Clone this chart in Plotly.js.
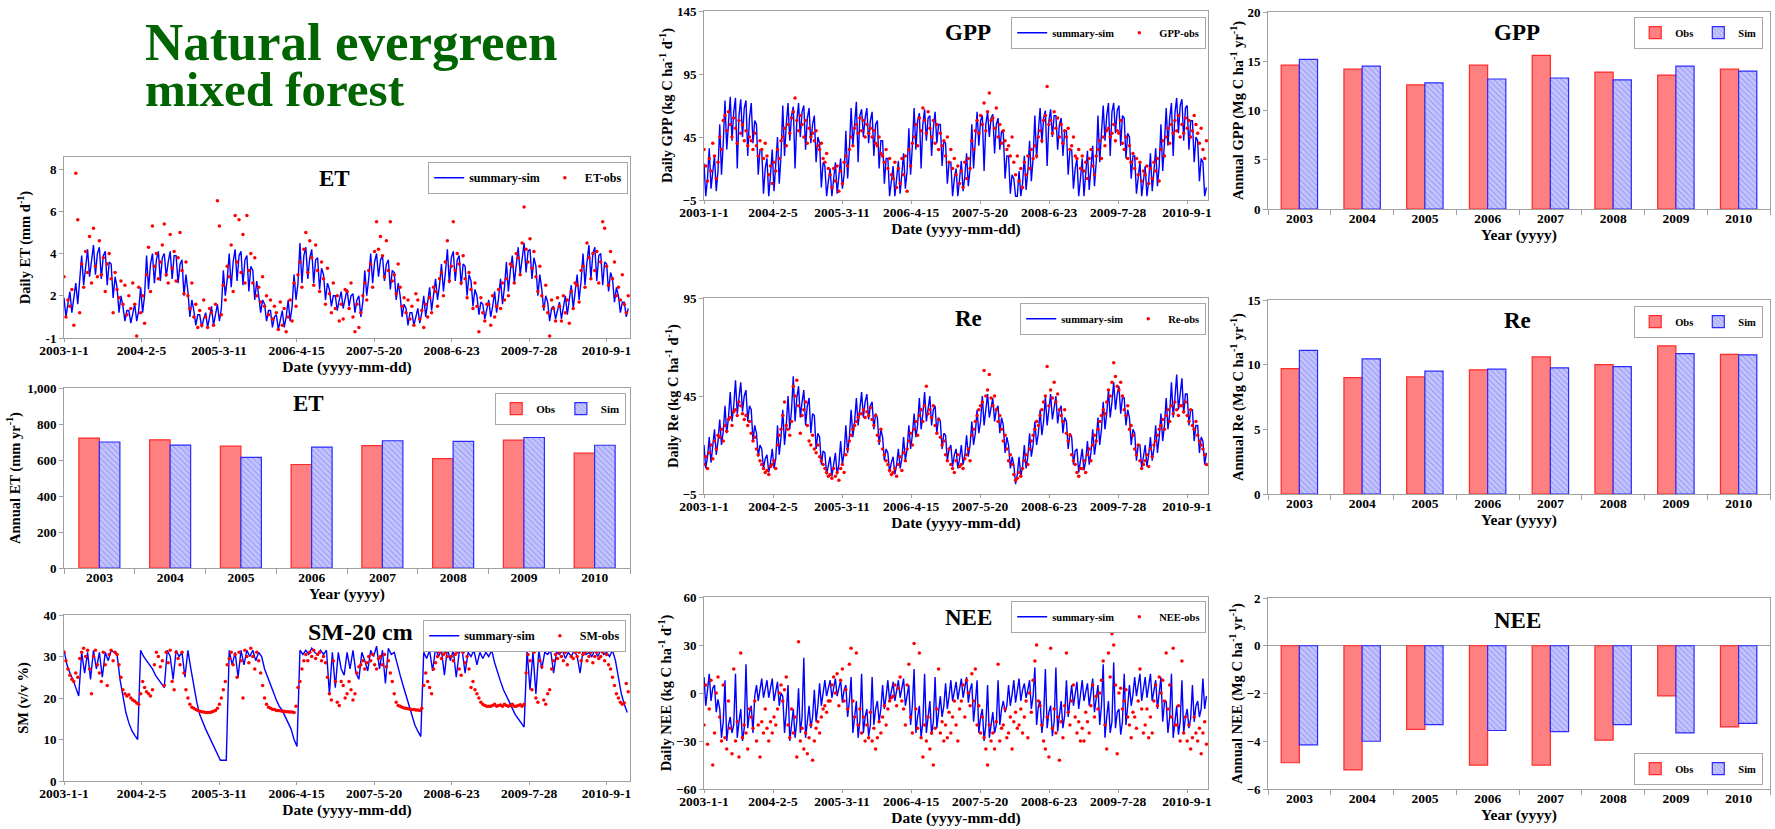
<!DOCTYPE html>
<html><head><meta charset="utf-8">
<script src="https://cdn.plot.ly/plotly-3.0.1.min.js"></script>
<style>html,body{margin:0;padding:0;background:#fff;}#chart{width:1775px;height:829px;}</style>
</head><body><div id="chart"></div>
<script>
// ---------- data ----------
const years = ['2003','2004','2005','2006','2007','2008','2009','2010'];
const dateTickLabels = ['2003-1-1','2004-2-5','2005-3-11','2006-4-15','2007-5-20','2008-6-23','2009-7-28','2010-9-1'];
const OBS_PER_YEAR = 36, SIM_PER_YEAR = 36, SM_SIM_PER_YEAR = 24;

// Daily ET (mm d-1)
const etSim = [
 1.9,1.0,1.6,2.2,1.2,2.0,2.6,1.6,2.8,3.9,2.5,3.4,4.2,2.9,3.8,4.4,3.0,4.0,4.3,2.8,3.9,4.1,2.5,3.6,3.5,1.9,2.9,2.4,1.2,2.0,1.5,0.8,1.3,1.3,0.7,1.1,
 1.6,0.8,1.3,2.4,1.2,2.0,3.9,2.3,3.5,4.0,2.6,3.7,4.1,2.7,3.8,4.0,2.9,3.6,4.1,2.8,3.9,3.9,2.6,3.5,3.7,2.0,3.0,2.2,1.0,1.8,1.3,0.6,1.1,1.1,0.5,0.9,
 1.2,0.5,1.0,1.5,0.6,1.2,1.6,0.8,1.4,3.2,2.0,2.8,4.0,2.4,3.6,4.2,2.7,3.9,4.1,2.5,3.7,3.9,2.2,3.4,3.2,1.8,2.7,2.0,1.2,1.8,1.6,0.8,1.3,1.3,0.5,1.0,
 1.1,0.4,0.9,1.3,0.5,1.0,1.8,0.8,1.5,3.0,1.8,2.6,4.5,2.6,3.9,4.3,2.8,3.8,4.2,2.6,3.7,3.8,2.3,3.3,3.0,1.8,2.6,2.3,1.5,2.0,2.0,1.3,1.8,2.2,1.4,1.9,
 2.3,1.5,2.0,2.1,1.2,1.8,2.0,1.0,1.7,3.2,2.0,2.8,4.0,2.6,3.6,4.0,2.9,3.7,3.9,2.7,3.5,3.7,2.3,3.2,3.1,1.8,2.6,2.0,1.0,1.6,1.4,0.6,1.2,1.2,0.6,1.0,
 1.4,0.7,1.2,2.0,1.0,1.7,2.4,1.3,2.0,2.8,1.8,2.5,3.5,2.2,3.1,4.2,2.6,3.8,4.1,2.7,3.7,3.9,2.5,3.5,3.4,2.0,3.0,2.7,1.5,2.3,2.0,1.1,1.7,1.6,0.9,1.4,
 1.8,1.0,1.5,2.2,1.2,1.9,2.8,1.6,2.4,3.6,2.2,3.2,3.9,2.6,3.6,4.3,3.0,3.9,4.5,3.1,4.1,4.2,2.8,3.8,3.4,2.0,3.0,2.3,1.3,2.0,1.7,0.8,1.4,1.5,0.9,1.3,
 1.7,0.9,1.4,2.0,1.1,1.7,2.5,1.4,2.2,3.0,1.8,2.7,4.0,2.5,3.6,4.4,2.8,4.0,4.3,2.7,3.9,4.0,2.5,3.6,3.5,2.2,3.1,2.8,1.7,2.4,2.0,1.2,1.7,1.7,1.0,1.4];
const etObs = [
 2.9,1.0,1.8,1.5,2.3,0.6,7.8,5.6,1.2,3.5,2.4,4.1,3.1,4.8,2.6,5.2,3.4,2.9,4.6,3.0,3.8,2.2,3.5,4.0,2.8,1.2,3.1,2.3,1.9,2.7,1.6,2.5,1.1,2.0,1.4,2.6,
 1.6,0.1,2.4,1.2,2.0,0.7,3.0,4.3,2.2,5.3,3.4,4.0,2.8,3.6,4.4,5.4,3.0,2.6,4.9,3.3,4.1,2.7,3.8,5.0,3.2,2.1,3.6,2.0,1.4,2.6,1.0,1.6,0.5,1.3,0.6,1.8,
 1.0,0.5,1.4,1.2,0.6,1.6,6.5,5.3,1.1,2.5,1.8,3.4,2.9,4.4,2.2,5.8,3.6,5.6,3.1,4.9,2.6,5.8,3.2,4.0,2.6,3.8,2.0,2.4,1.7,2.9,1.5,2.0,1.1,1.8,0.9,1.5,
 1.2,0.4,1.7,0.6,1.4,0.3,1.0,1.8,0.8,2.6,1.5,3.0,3.6,2.4,4.2,5.0,3.1,4.6,3.8,2.5,4.4,3.2,2.2,3.6,2.8,1.6,3.3,2.1,1.2,2.6,1.4,2.0,0.8,1.6,0.9,2.3,
 2.2,1.4,2.6,1.0,0.3,1.6,0.5,1.2,2.0,2.6,1.8,3.2,3.5,2.4,4.1,5.5,4.2,4.8,3.9,2.9,4.6,3.2,5.5,2.7,3.0,2.1,3.5,2.4,1.5,1.9,1.2,1.8,0.9,1.5,0.6,2.1,
 1.8,0.9,1.3,0.5,1.6,1.0,1.9,1.2,2.4,2.2,1.5,2.8,3.1,2.0,3.6,4.6,2.7,3.4,5.5,3.2,4.0,3.5,2.6,3.9,2.8,1.9,3.1,2.3,1.4,2.6,1.5,0.3,1.9,1.2,0.8,1.6,
 1.6,0.6,2.0,1.0,1.5,2.3,1.4,2.6,1.8,2.8,2.0,3.5,3.4,2.6,4.0,3.8,3.0,4.5,6.2,4.2,3.6,4.7,3.3,4.1,2.9,2.2,3.4,2.0,1.5,2.5,1.2,0.1,1.8,1.4,0.8,1.9,
 1.5,0.8,2.0,1.2,1.8,0.7,2.2,1.4,2.6,2.5,1.7,3.2,3.4,2.4,4.5,3.8,2.8,4.0,3.2,4.1,2.6,3.6,5.5,5.2,3.4,2.5,4.1,2.8,3.6,2.0,2.4,1.8,3.0,1.6,1.2,2.0];

// Soil moisture 20 cm (v/v %)
const smSim = [
 31.5,28,26,24.5,22.5,20.5,31,26,31,24.5,31.5,27,31,25,31,29,31.5,31,30.5,24.5,20,16.5,14,12.2,
 11,10,31.5,30,29,28,27,25.5,24.5,23.5,22.5,31.5,30,24.5,31.5,30,31,25,31.5,27,22.5,19,16,14,
 12.5,11,9.5,8,6.5,5,5,5,31.5,28,31,25,31.5,28,31.5,30,31.5,29,31,30,27,25,23,21,
 19.5,18,17,15.5,14,12.5,10,8.3,31.5,30.5,31.5,30.5,32,31,30.5,31.5,30.5,31.5,21,31,22.5,31,27,25.5,
 31,27,31.5,26,24.5,31,29,26.5,31.5,30,32.5,27,31.5,23.5,32,30.5,31,28,25.5,23,20.5,18,15.5,13.5,
 12,10.7,31,29.5,31.5,26.5,32,30,31.5,25.5,32,29,31.5,25,31,31.5,26,31,30,31.5,28,31,29.5,31,
 30,31.5,28.5,26,24,22,20.5,19,17.5,16,15,14,13,31.5,22,31,21,31.5,27,31,30.5,31.5,26,31,
 30.5,31.5,29.5,31,30,31.5,30,26,31.5,30.5,31,30,31.5,30,31.5,30.5,31,30,31.5,29,25,21,18.5,16.5];
const smObs = [
 31,29,27,25.5,24.5,24,26,25,29.5,31,32,30,31.5,27,21,30,31.5,28,26,24,31,28,23,30.5,31.5,29,31,30.5,28,25,22,21,20.5,20.8,20,19.5,
 19.2,18.8,18.5,21,24,22.5,21.5,21,20.5,22,28,31,30,27.5,29,23,31,28.5,31.5,24,22,31,29.5,28,31,26,22,20,18.5,17.8,17.5,17.2,17,16.8,16.7,16.6,
 16.5,16.5,16.5,16.6,16.8,17,17.5,18.5,20,22,24,28,29.5,31,28,30.5,25,31,29,20,31.5,30,28.5,32,30,27,31,29,26,23,20,18.5,17.8,17.5,17.3,17.2,
 17,17,16.9,16.8,16.8,16.7,16.7,16.6,16.6,16.5,18,22.5,24,27,29,30.5,29,31,30,31.5,29.5,30.5,31,29,30,28.5,25,21,19.5,29,24,19,18.2,24,23,20,
 21,24,22,19.5,21,26,27.5,28,29,27,28.5,30,29,30.5,28,27,29.5,30,28,30.5,27.5,29,26,24,21,19,18.2,18,17.8,17.6,17.5,17.4,17.3,17.2,17.2,17.1,
 17.1,17,17.5,23,26,24,22.5,21,27,28.5,30,31,29.5,30.5,31,30,31.5,30,29,30.5,31,27,25.5,31,28.5,30,27,22.5,24,22,21,20,19,18.5,18.2,18,
 18,18,18.2,18.5,18,18.2,18.3,18,18.5,18.2,18,18.2,18.5,18,18,18.2,18.4,18,18.5,26,30.5,29,22,31,20,19,29,27.5,19.5,18.5,21,22,27,29,30.5,29.5,
 31,30,29,31,28,31.5,30,29.5,31,30,31,29,30.5,31,29,30,31,28.5,30,31,29.5,30,31,29,30.5,28,27,25,23,21,20,19,18.5,18.8,23.5,21.5];

// Daily GPP (kg C ha-1 d-1)
const gppSim = [
 24,-2,12,36,4,20,30,2,18,55,15,40,74,35,60,77,42,65,76,20,62,75,45,68,74,30,60,72,40,58,55,15,35,35,0,20,
 28,-2,15,35,2,20,45,8,30,70,30,55,72,42,62,69,20,58,72,45,65,70,35,60,68,40,55,62,25,45,40,5,25,22,-2,10,
 20,-2,10,25,0,12,28,4,15,50,12,35,68,38,60,73,25,62,67,45,60,68,40,58,65,30,55,58,20,42,42,8,28,28,-2,12,
 22,-2,10,26,0,14,32,4,18,52,15,38,68,35,58,64,20,55,67,42,60,62,30,52,65,40,55,55,22,42,40,8,25,25,-2,12,
 20,-2,10,26,2,14,32,6,20,55,20,42,65,38,58,62,18,55,65,45,60,63,32,55,60,35,50,48,12,30,30,0,15,12,-2,-2,
 18,-2,8,30,3,18,42,10,28,62,28,50,68,40,60,66,22,58,67,45,62,62,35,55,60,30,50,50,15,35,35,4,20,28,-2,12,
 28,-2,15,34,3,20,38,6,25,62,25,48,70,42,62,72,30,65,72,48,66,70,38,62,60,28,48,45,12,30,30,0,15,25,-2,12,
 22,-2,10,32,2,18,36,6,22,55,18,40,68,38,60,72,30,64,76,48,70,75,42,68,70,35,58,58,25,45,42,10,28,25,-2,5];
const gppObs = [
 35,22,10,28,18,40,30,12,25,45,35,58,62,50,65,55,45,60,52,40,58,48,55,42,50,38,45,42,35,48,38,30,42,35,28,40,
 30,15,22,8,25,18,35,28,42,45,52,38,55,48,60,65,76,58,50,62,55,45,58,40,52,45,48,42,50,38,35,40,28,25,32,20,
 15,5,20,10,22,2,18,8,25,30,22,35,45,38,52,55,48,60,50,58,45,55,48,52,45,50,40,38,45,32,30,25,35,20,28,15,
 12,25,5,20,8,28,15,30,2,35,22,40,45,55,38,60,50,68,58,48,65,52,45,58,40,55,35,48,38,42,30,45,25,35,20,28,
 15,22,8,18,5,25,12,28,20,42,35,50,58,48,62,55,72,50,65,80,58,60,52,68,45,55,40,50,42,35,38,30,45,25,15,30,
 10,20,5,25,15,30,20,35,28,38,30,45,50,42,58,62,85,55,58,48,65,52,60,45,55,40,50,45,52,35,38,45,30,28,35,20,
 30,18,25,12,28,35,22,15,30,35,42,28,45,38,50,52,45,48,55,42,50,48,58,40,35,45,28,38,25,32,20,28,15,25,10,18,
 15,22,8,20,12,25,18,28,10,35,42,30,45,52,40,55,48,58,50,62,45,55,48,60,52,58,45,50,62,55,48,40,52,35,28,42];

// Daily Re (kg C ha-1 d-1)
const reSim = [
 20,8,14,24,11,18,28,15,22,33,20,27,40,26,34,47,32,40,53,36,46,52,37,45,48,32,40,38,22,30,26,14,20,18,8,13,
 15,6,11,18,8,13,30,15,24,38,20,30,45,28,38,55,32,44,50,34,42,48,30,40,44,26,36,35,18,26,24,10,17,16,5,10,
 14,4,9,16,5,10,22,10,16,30,16,24,38,24,32,44,30,38,47,34,42,46,33,40,42,28,36,34,20,28,24,12,18,16,6,11,
 14,5,10,18,8,13,24,12,18,30,18,25,36,24,30,44,28,36,47,32,40,45,30,38,40,26,34,32,18,26,25,12,18,20,9,15,
 18,8,13,20,10,15,25,14,20,32,20,26,38,26,32,45,30,38,46,34,40,44,32,38,40,26,34,30,16,24,20,8,14,10,0,5,
 14,4,9,20,8,14,26,14,20,32,20,26,38,25,32,45,30,38,46,33,40,45,31,38,40,26,34,32,18,26,24,10,17,18,6,12,
 18,7,12,22,10,16,28,15,22,34,20,28,42,28,36,48,34,42,52,38,46,50,36,44,44,30,38,34,20,28,26,12,20,20,8,14,
 20,9,15,24,12,18,30,16,24,36,22,30,44,28,36,52,34,44,56,38,48,54,36,46,46,30,38,38,22,30,30,16,24,22,10,16];
const reObs = [
 10,14,8,16,20,13,22,18,25,24,28,22,30,27,33,34,30,37,38,35,42,40,36,33,35,30,32,26,22,24,18,15,12,10,8,6,
 7,5,9,10,12,8,20,25,28,35,42,30,28,25,32,50,45,53,40,26,35,38,42,30,22,20,25,18,16,20,14,12,10,8,6,4,
 5,3,8,4,6,2,8,10,6,15,18,22,25,28,30,32,34,36,36,38,34,37,35,39,33,30,35,25,22,28,18,15,12,10,7,5,
 6,8,4,10,14,7,16,12,18,22,26,20,28,32,25,35,38,32,40,50,36,38,34,40,30,26,33,24,20,22,15,12,18,10,8,6,
 12,15,9,10,8,13,15,18,12,25,28,32,35,38,40,42,58,45,48,56,44,40,45,38,32,35,28,22,25,18,12,15,10,5,2,3,
 6,4,8,12,15,10,18,22,25,28,32,30,35,38,42,45,60,40,48,44,52,42,46,38,35,32,38,26,22,25,15,12,10,6,4,8,
 8,12,6,15,18,12,20,25,22,28,32,35,38,36,42,48,45,52,62,55,50,48,52,45,38,35,40,28,30,25,18,15,20,12,8,10,
 12,15,9,18,14,20,22,25,28,30,33,28,35,38,32,40,36,42,38,35,40,40,37,42,35,32,38,30,28,32,25,22,20,18,15,10];

// Daily NEE (kg C ha-1 d-1)
const neeSim = [
 10,-8,2,12,-5,3,5,-12,-4,-10,-28,-18,8,-30,-20,-15,-25,-20,12,-28,-18,-10,-30,-22,18,-22,-12,-8,-25,-2,5,-5,2,9,-3,4,
 8,-3,3,9,-5,2,7,-8,0,-2,-25,-12,5,-30,-20,-10,-28,-18,3,-25,-15,22,-28,-18,-8,-22,-15,2,-18,-8,6,-8,0,8,-2,4,
 8,-3,3,9,-2,4,8,-6,2,5,-15,-5,10,-25,-15,-5,-28,-18,12,-25,-15,-10,-27,-20,10,-20,-10,-5,-18,-10,5,-10,-2,8,-5,2,
 7,-5,2,8,-3,3,9,-8,0,5,-20,-8,15,-25,-15,-8,-28,-18,12,-25,-15,-5,-26,-18,10,-22,-12,-2,-15,-8,6,-10,-2,8,-5,2,
 7,-4,2,9,-3,3,10,-6,2,6,-18,-6,8,-25,-15,-10,-30,-20,5,-28,-18,-12,-25,-20,8,-20,-10,-5,-12,-8,5,-8,-1,8,-6,2,
 9,-5,2,6,-3,2,8,-10,-2,16,-20,-8,-5,-25,-15,15,-22,-12,-8,-27,-18,16,-24,-14,-5,-22,-14,8,-15,-5,5,-8,-1,7,-10,-2,
 8,-5,2,6,-8,-1,9,-12,-2,5,-20,-8,18,-28,-15,-5,-25,-18,19,-22,-12,-10,-26,-18,12,-20,-8,5,-8,-1,10,-2,5,12,-5,4,
 10,-3,4,12,-5,3,8,-10,-1,10,-18,-6,-5,-25,-15,12,-28,-18,-8,-26,-18,8,-25,-15,-10,-22,-16,5,-18,-8,-5,-15,-10,9,-10,-2];
const neeObs = [
 -20,5,-32,-10,8,-45,-25,0,10,-15,-30,5,-28,-35,-5,-22,-38,15,-30,-18,-40,25,-28,-20,-25,-35,-10,-15,-22,-5,-30,-20,-40,-18,-25,-10,
 -22,-30,-18,-25,-15,-20,-10,0,5,-5,2,10,-20,-28,-10,-25,-15,-40,32,-30,-22,-35,-25,-38,-28,-20,-42,-30,-22,-18,-25,-15,-10,-8,-12,-5,
 -5,5,10,0,12,-8,8,15,-5,2,-10,18,28,-5,-15,25,-20,-10,-25,-15,-30,-20,-28,-12,-30,-22,-35,-28,-18,-25,-15,-8,-20,-10,-5,-3,
 -2,5,-8,3,10,-5,-10,-20,5,18,-15,-25,31,-10,-22,25,-28,-40,-20,-30,-15,-35,-25,-45,-22,-10,15,-25,-18,-30,-20,-28,-12,-25,-15,-5,
 -20,-30,-10,-5,5,-15,8,0,-8,12,-5,15,-20,-8,-25,-15,-28,-35,-45,-20,-30,-25,-35,-18,18,-30,-22,-20,-10,-28,-25,-15,-35,-18,-12,-22,
 -20,-10,-25,-15,-5,-28,0,-12,8,20,30,-5,-8,-20,-30,-35,-15,-40,28,-22,-10,-25,-15,-42,-18,-28,-8,25,-12,-20,-5,5,-15,-25,-18,-30,
 -22,-30,-12,-18,-25,-8,5,-15,-2,-10,0,8,20,-20,-35,25,10,37,30,5,-38,0,3,-10,-5,2,-15,-20,-28,-12,-15,-22,-5,15,-10,-25,
 -20,-10,-28,-15,-25,-5,5,-8,10,0,8,-5,25,-10,5,-15,28,-20,-20,-8,-30,20,-25,-15,-30,-20,-35,-28,-15,-25,-30,-22,-38,-25,-18,-32];

// Annual totals
const etAnnObs  = [722,712,677,575,680,608,710,638];
const etAnnSim  = [700,683,615,672,707,703,725,682];
const gppAnnObs = [14.6,14.2,12.6,14.6,15.6,13.9,13.6,14.2];
const gppAnnSim = [15.2,14.5,12.8,13.2,13.3,13.1,14.5,14.0];
const reAnnObs  = [9.7,9.0,9.05,9.6,10.6,10.0,11.45,10.8];
const reAnnSim  = [11.1,10.45,9.5,9.65,9.75,9.85,10.85,10.75];
const neeAnnObs = [-4.9,-5.2,-3.5,-5.0,-5.0,-3.95,-2.1,-3.4];
const neeAnnSim = [-4.15,-4.0,-3.3,-3.55,-3.6,-3.3,-3.65,-3.25];

// ---------- helpers ----------
function sampleDates(perYear){
  const out=[];
  for(let y=2003;y<=2010;y++){
    const s=Date.UTC(y,0,1), e=Date.UTC(y+1,0,1), step=(e-s)/perYear;
    for(let k=0;k<perYear;k++) out.push(new Date(s+k*step).toISOString().slice(0,19).replace('T',' '));
  }
  return out;
}
const obsDates = sampleDates(OBS_PER_YEAR);
const simDates = sampleDates(SIM_PER_YEAR);
const smSimDates = sampleDates(SM_SIM_PER_YEAR);
const tickDates = dateTickLabels.map(t=>{const p=t.split('-');return p[0]+'-'+p[1].padStart(2,'0')+'-'+p[2].padStart(2,'0');});

const FONT='Liberation Serif, Times New Roman, serif';
const W=1775,H=829;
const px=(a,b)=>[a/W,b/W];
const py=(top,bottom)=>[1-bottom/H,1-top/H];
const AX='#a0a0a0';
const tf=(s)=>({family:FONT,size:s,color:'#000',weight:'bold'});

function tsX(dom,anchor){
  return {domain:dom,anchor:anchor,type:'date',range:['2003-01-01','2010-12-31'],
    tickvals:tickDates,ticktext:dateTickLabels,ticks:'outside',ticklen:3,tickcolor:AX,ticklabelstandoff:-3,
    showline:true,linecolor:AX,mirror:true,showgrid:false,zeroline:false,tickfont:tf(13.5),
    title:{text:'Date (yyyy-mm-dd)',font:tf(15.5),standoff:0}};
}
function yAx(dom,anchor,range,dtick,title,standoff,extra){
  return Object.assign({domain:dom,anchor:anchor,range:range,dtick:dtick,tick0:range[0],
    ticks:'outside',ticklen:4,tickcolor:AX,showline:true,linecolor:AX,mirror:true,
    showgrid:false,zeroline:false,tickfont:tf(13),title:{text:title,font:tf(14.5),standoff:standoff}},extra||{});
}
function barX(dom,anchor){
  return {domain:dom,anchor:anchor,type:'category',tickson:'boundaries',ticks:'outside',ticklen:5,
    tickcolor:AX,showline:true,linecolor:AX,mirror:true,showgrid:false,zeroline:false,tickfont:tf(13.5),
    ticklabelstandoff:-3,title:{text:'Year (yyyy)',font:tf(15.5),standoff:0}};
}
function legendAt(x,y,yanchor,fs){
  return {x:x,y:y,xanchor:'right',yanchor:yanchor||'top',orientation:'h',bgcolor:'#fff',
    bordercolor:'#a8a8a8',borderwidth:1.2,font:tf(fs),itemwidth:30};
}

const traces=[];
function tsPair(xa,ya,leg,sim,simX,obs,obsName){
  traces.push({x:simX,y:sim,type:'scatter',mode:'lines',name:'summary-sim',line:{color:'#0000ff',width:1.4},xaxis:xa,yaxis:ya,legend:leg});
  traces.push({x:obsDates,y:obs,type:'scatter',mode:'markers',name:obsName,marker:{color:'#ff0000',size:3.5},xaxis:xa,yaxis:ya,legend:leg});
}
function barPair(xa,ya,leg,obs,sim){
  traces.push({x:years,y:obs,type:'bar',name:'Obs',marker:{color:'rgb(255,128,128)',line:{color:'#ff2a2a',width:1.2}},xaxis:xa,yaxis:ya,legend:leg});
  traces.push({x:years,y:sim,type:'bar',name:'Sim',marker:{color:'rgb(196,196,255)',pattern:{shape:'\\',fgcolor:'rgb(150,150,240)',bgcolor:'rgb(196,196,255)',size:4,solidity:0.25},line:{color:'#2a2aff',width:1.2}},xaxis:xa,yaxis:ya,legend:leg});
}

tsPair('x','y','legend',etSim,simDates,etObs,'ET-obs');
barPair('x2','y2','legend2',etAnnObs,etAnnSim);
tsPair('x3','y3','legend3',smSim,smSimDates,smObs,'SM-obs');
tsPair('x4','y4','legend4',gppSim,simDates,gppObs,'GPP-obs');
tsPair('x5','y5','legend5',reSim,simDates,reObs,'Re-obs');
tsPair('x6','y6','legend6',neeSim,simDates,neeObs,'NEE-obs');
barPair('x7','y7','legend7',gppAnnObs,gppAnnSim);
barPair('x8','y8','legend8',reAnnObs,reAnnSim);
barPair('x9','y9','legend9',neeAnnObs,neeAnnSim);

const c1=px(64,630), c2=px(704,1208), c3=px(1268,1770);

function ann(text,x,y,size,color){
  return {text:text,x:x/W,y:1-y/H,xref:'paper',yref:'paper',xanchor:'center',yanchor:'middle',showarrow:false,
    font:{family:FONT,size:size,color:color||'#000',weight:'bold'}};
}
const bigL=(t,y,s)=>Object.assign(ann(t,143,y,s,'#006400'),{xanchor:'left'});

const layout={
  width:W,height:H,margin:{l:0,r:0,t:0,b:0},paper_bgcolor:'#fff',plot_bgcolor:'#fff',
  showlegend:true,barmode:'group',bargap:0.42,bargroupgap:0,
  xaxis:tsX(c1,'y'),
  yaxis:yAx(py(157,338),'x',[0,8.57],2,'Daily ET (mm d<sup>-1</sup>)',11,{tickvals:[0,2,4,6,8],ticktext:['-1','2','4','6','8']}),
  xaxis2:barX(c1,'y2'),
  yaxis2:yAx(py(388,568),'x2',[0,1000],200,'Annual ET (mm yr<sup>-1</sup>)',3,{separatethousands:true,tickformat:','}),
  xaxis3:tsX(c1,'y3'),
  yaxis3:yAx(py(615,781),'x3',[0,40],10,'SM (v/v %)',11),
  xaxis4:tsX(c2,'y4'),
  yaxis4:yAx(py(11,200),'x4',[-5,145],50,'Daily GPP (kg C ha<sup>-1</sup> d<sup>-1</sup>)',0),
  xaxis5:tsX(c2,'y5'),
  yaxis5:yAx(py(298,494),'x5',[-5,95],50,'Daily Re (kg C ha<sup>-1</sup> d<sup>-1</sup>)',0),
  xaxis6:tsX(c2,'y6'),
  yaxis6:yAx(py(597,789),'x6',[-60,60],30,'Daily NEE (kg C ha<sup>-1</sup> d<sup>-1</sup>)',0),
  xaxis7:barX(c3,'y7'),
  yaxis7:yAx(py(12,209),'x7',[0,20],5,'Annual GPP (Mg C ha<sup>-1</sup> yr<sup>-1</sup>)',0),
  xaxis8:barX(c3,'y8'),
  yaxis8:yAx(py(300,494),'x8',[0,15],5,'Annual Re (Mg C ha<sup>-1</sup> yr<sup>-1</sup>)',0),
  xaxis9:barX(c3,'y9'),
  yaxis9:yAx(py(598,789),'x9',[-6,2],2,'Annual NEE (Mg C ha<sup>-1</sup> yr<sup>-1</sup>)',0,{zeroline:true,zerolinecolor:AX,zerolinewidth:1}),
  legend: legendAt(628/W,1-162/H,'top',12),
  legend2:legendAt(626/W,1-393/H,'top',11),
  legend3:legendAt(626/W,1-620/H,'top',12),
  legend4:legendAt(1206/W,1-17/H,'top',10.5),
  legend5:legendAt(1206/W,1-303/H,'top',10.5),
  legend6:legendAt(1206/W,1-601/H,'top',10.5),
  legend7:legendAt(1763/W,1-17/H,'top',10.5),
  legend8:legendAt(1763/W,1-306/H,'top',10.5),
  legend9:legendAt(1763/W,1-785/H,'bottom',10.5),
  annotations:[
    bigL('Natural evergreen',42,53),
    bigL('mixed forest',89,49),
    ann('ET',334,178,23),
    ann('ET',308,404,23),
    ann('SM-20 cm',360,632,24),
    ann('GPP',968,32,23),
    ann('Re',968,318,23),
    ann('NEE',968,617,23),
    ann('GPP',1517,32,23),
    ann('Re',1517,320,23),
    ann('NEE',1517,620,23)
  ]
};
Plotly.newPlot('chart',traces,layout,{staticPlot:true,displayModeBar:false});
</script></body></html>
